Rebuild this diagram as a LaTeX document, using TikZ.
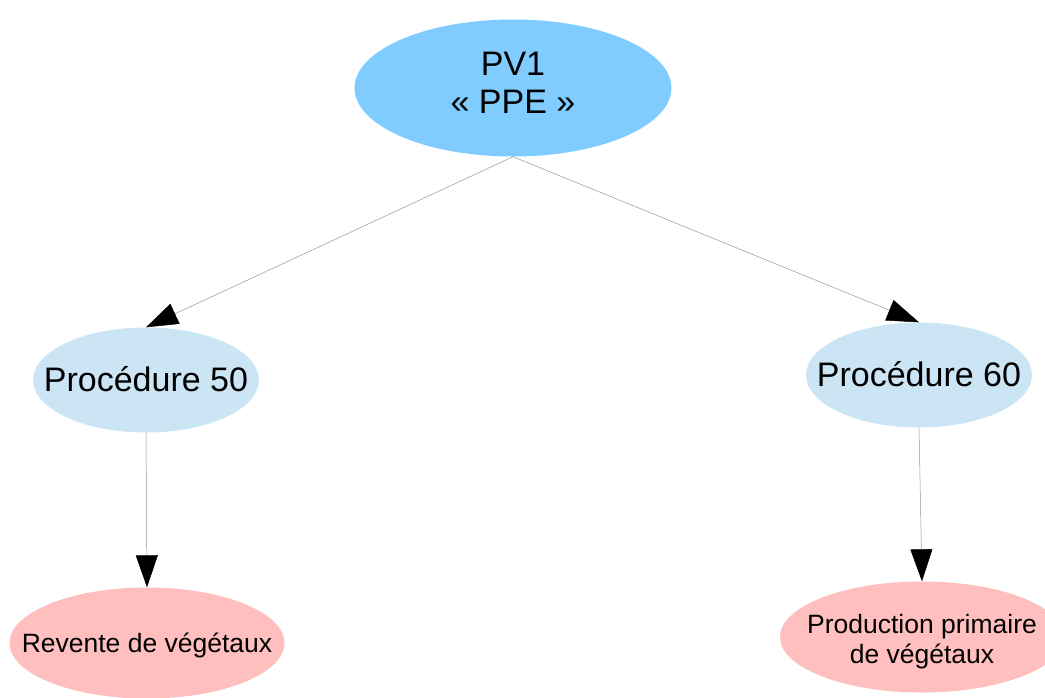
\documentclass[tikz,border=0pt]{standalone}
\usepackage{fontspec}
\setmainfont{Liberation Sans}
\usetikzlibrary{shapes.geometric,arrows.meta}
\definecolor{topblue}{RGB}{128,204,255}
\definecolor{midblue}{RGB}{204,229,245}
\definecolor{leafpink}{RGB}{255,191,191}
\definecolor{edgegray}{RGB}{150,150,150}
\newcommand{\zwtext}[2][-4pt]{\raisebox{#1}[\height][\depth]{\makebox[0pt]{\begin{tabular}{@{}c@{}}#2\end{tabular}}}}
\begin{document}
\begin{tikzpicture}[x=1pt,y=-1pt,
  topnode/.style={ellipse,fill=topblue,inner sep=0pt,minimum width=317pt,minimum height=137pt,font=\fontsize{34}{38}\selectfont},
  midnode/.style={ellipse,fill=midblue,inner sep=0pt,minimum width=226pt,minimum height=105pt,font=\fontsize{34}{39}\selectfont},
  leafnode/.style={ellipse,fill=leafpink,inner sep=0pt,minimum height=111pt,font=\fontsize{26.5}{30}\selectfont},
  link/.style={draw=edgegray,line width=0.5pt,-{Triangle[length=32pt,width=22pt,black]}}]
\useasboundingbox (0,0) rectangle (1045,697);
\clip (0,0) rectangle (1045,697);
\node[topnode] (pv) at (513,88) {\zwtext[1.5pt]{PV1\\« PPE »}};
\node[midnode] (p50) at (146,380) {\zwtext{Procédure 50}};
\node[midnode] (p60) at (919,375) {\zwtext{Procédure 60}};
\node[leafnode,minimum width=275pt] (rev) at (147,643) {\zwtext[-3pt]{Revente de végétaux}};
\node[leafnode,minimum width=284pt] (prod) at (922,637) {\zwtext[-5pt]{Production primaire\\de végétaux}};
\draw[link] (pv.south) -- (p50.north);
\draw[link] (pv.south) -- (p60.north);
\draw[link] (p50.south) -- (rev.north);
\draw[link] (p60.south) -- (prod.north);
\end{tikzpicture}
\end{document}
